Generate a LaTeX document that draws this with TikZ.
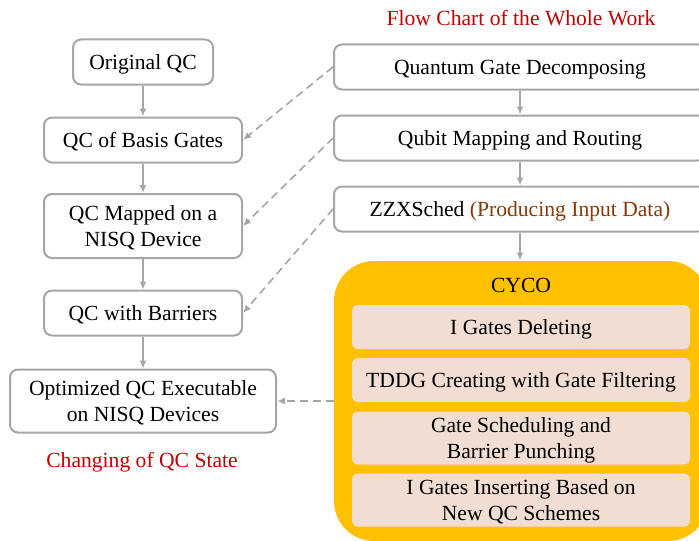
\documentclass[tikz,border=0pt]{standalone}
\usepackage{fontspec}
\setmainfont{Liberation Serif}
\usetikzlibrary{arrows.meta}
\definecolor{linegray}{HTML}{A6A6A6}
\definecolor{cycoyellow}{HTML}{FFC000}
\definecolor{stepfill}{HTML}{F2DDD2}
\definecolor{titlered}{HTML}{C00000}
\definecolor{notebrown}{HTML}{843C0C}
\tikzset{
  statebox/.style={draw=linegray, line width=1pt, rounded corners=4pt, fill=white,
    align=center, minimum height=22.5pt, inner sep=2pt, text depth=0pt},
  workbox/.style={draw=linegray, line width=1pt, rounded corners=4pt, fill=white,
    minimum width=186pt, minimum height=22.5pt, text depth=0pt},
  cycobox/.style={fill=cycoyellow, rounded corners=20pt, minimum width=187pt, minimum height=140pt},
  cycostep/.style={fill=stepfill, rounded corners=3pt, align=center, minimum width=169pt,
    inner sep=1pt, text depth=0pt},
  flow/.style={draw=linegray, line width=0.8pt, -{Latex[length=4pt,width=3.5pt]}},
  backflow/.style={flow, dashed, dash pattern=on 4pt off 2.5pt}
}
\begin{document}
\begin{tikzpicture}[x=0.5pt, y=-0.5pt, font=\fontsize{10.8}{13}\selectfont]
  \useasboundingbox (0,0) rectangle (699,540);
  \begin{scope}
  \clip (0,0) rectangle (699,540);

  % right column: the work
  \node[text=titlered] (title) at (521,18) {Flow Chart of the Whole Work};
  \node[workbox] (qgd) at (520,67) {Quantum Gate Decomposing};
  \node[workbox] (qmr) at (520,138) {Qubit Mapping and Routing};
  \node[workbox] (zzx) at (520,209) {ZZXSched \textcolor{notebrown}{(Producing Input Data)}};

  \node[cycobox] (cyco) at (521,401) {};
  \node (cycolabel) at (521,285) {CYCO};
  \node[cycostep, minimum height=22pt] (del) at (521,327) {I Gates Deleting};
  \node[cycostep, minimum height=22pt] (tddg) at (521,380) {TDDG Creating with Gate Filtering};
  \node[cycostep, minimum height=26.5pt] (sched) at (521,438) {Gate Scheduling and\\Barrier Punching};
  \node[cycostep, minimum height=26.5pt] (ins) at (521,500) {I Gates Inserting Based on\\New QC Schemes};
  \end{scope}

  % left column: state of the QC
  \node[statebox, minimum width=70pt] (orig) at (143,62) {Original QC};
  \node[statebox, minimum width=99pt] (basis) at (143,140) {QC of Basis Gates};
  \node[statebox, minimum width=99pt, minimum height=32pt] (mapped) at (143,226) {QC Mapped on a\\NISQ Device};
  \node[statebox, minimum width=99pt] (barrier) at (143,313) {QC with Barriers};
  \node[statebox, minimum width=133pt, minimum height=31.5pt] (opt) at (143,401) {Optimized QC Executable\\on NISQ Devices};
  \node[text=titlered] (change) at (142,462) {Changing of QC State};

  \draw[flow] (orig) -- (basis);
  \draw[flow] (basis) -- (mapped);
  \draw[flow] (mapped) -- (barrier);
  \draw[flow] (barrier) -- (opt);

  \draw[flow] (qgd) -- (qmr);
  \draw[flow] (qmr) -- (zzx);
  \draw[flow] (zzx) -- (cyco.north -| zzx.south);

  \draw[backflow] (qgd.west) -- (basis.east);
  \draw[backflow] (qmr.west) -- (mapped.east);
  \draw[backflow] (zzx.west) -- (barrier.east);
  \draw[backflow] (cyco.west) -- (opt.east);
\end{tikzpicture}
\end{document}
